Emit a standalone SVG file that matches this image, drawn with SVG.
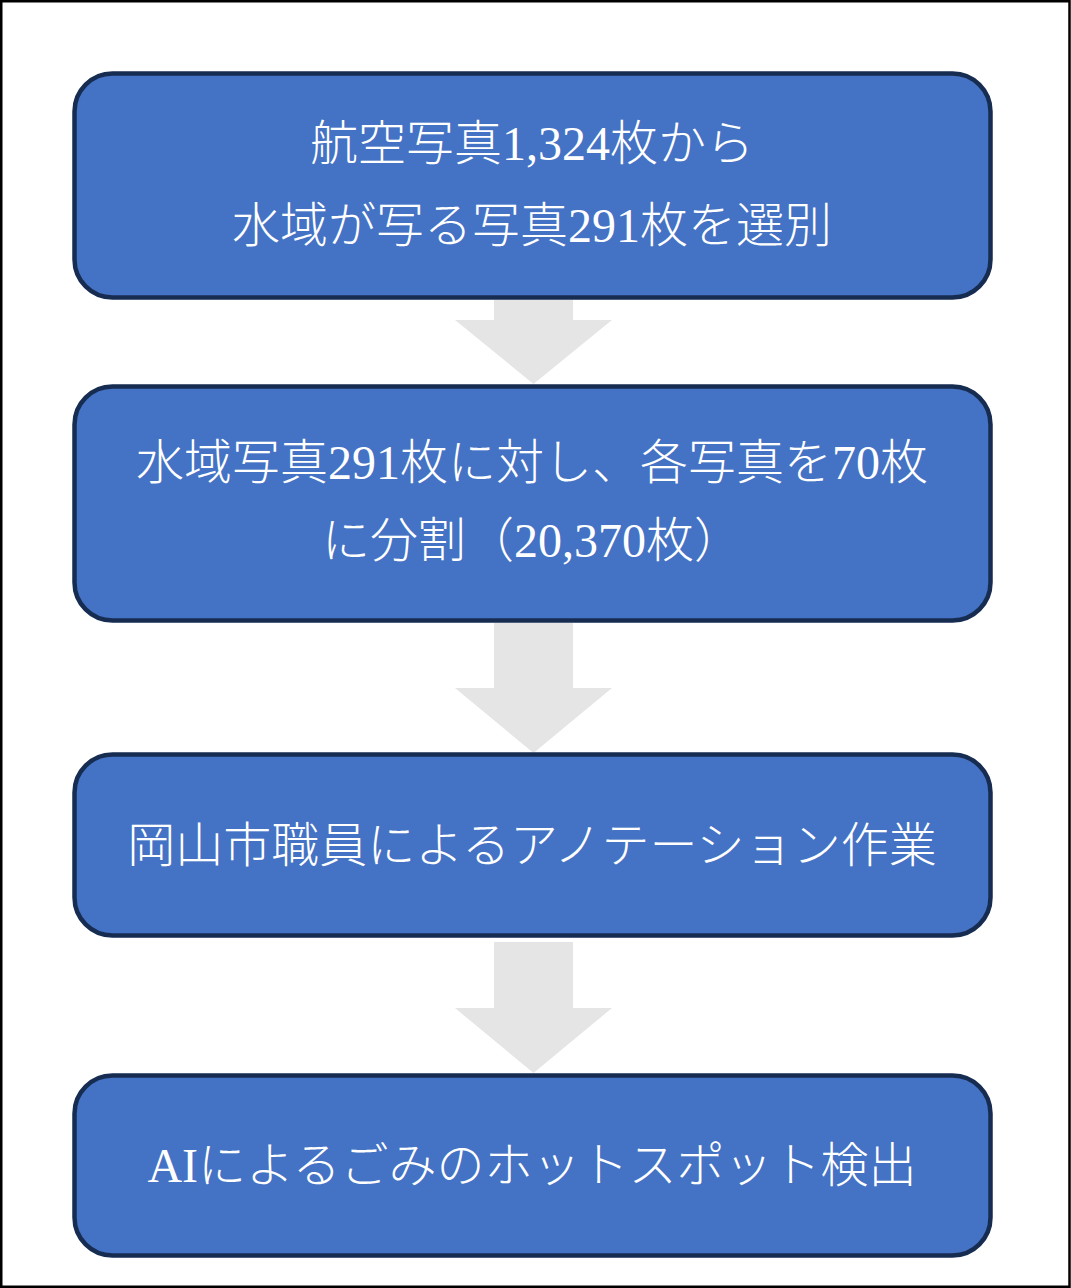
<svg xmlns="http://www.w3.org/2000/svg" width="1071" height="1288" viewBox="0 0 1071 1288">
  <style>
    .box { fill: #4472C4; stroke: #172C51; stroke-width: 4.5; }
    .arrow { fill: #E5E5E5; stroke: none; }
    .label { fill: #FFFFFF; font-family: "Liberation Serif", "Noto Sans CJK JP", serif; font-size: 48px; font-weight: 300; text-anchor: middle; }
  </style>
  <rect x="1.25" y="1.25" width="1068.25" height="1285.5" fill="#FFFFFF" stroke="#000000" stroke-width="2.5"/>
  <g id="connectors">
    <polygon class="arrow" points="494,300 573,300 573,320 612,320 533.5,384 455,320 494,320"/>
    <polygon class="arrow" points="494,623 573,623 573,688 612,688 533.5,753 455,688 494,688"/>
    <polygon class="arrow" points="494,942 573,942 573,1008 612,1008 533.5,1073 455,1008 494,1008"/>
  </g>
  <g id="node1">
    <rect class="box" x="74.5" y="73.5" width="916" height="224" rx="38" ry="38"/>
    <text class="label" x="532" y="160">航空写真1,324枚から</text>
    <text class="label" x="532" y="242">水域が写る写真291枚を選別</text>
  </g>
  <g id="node2">
    <rect class="box" x="74.5" y="386.5" width="916" height="234" rx="38" ry="38"/>
    <text class="label" x="532" y="479">水域写真291枚に対し、各写真を70枚</text>
    <text class="label" x="532" y="557">に分割（20,370枚）</text>
  </g>
  <g id="node3">
    <rect class="box" x="74.5" y="754.5" width="916" height="181" rx="38" ry="38"/>
    <text class="label" x="532" y="862">岡山市職員によるアノテーション作業</text>
  </g>
  <g id="node4">
    <rect class="box" x="74.5" y="1075.5" width="916" height="180" rx="38" ry="38"/>
    <text class="label" x="532" y="1182">AIによるごみのホットスポット検出</text>
  </g>
</svg>
